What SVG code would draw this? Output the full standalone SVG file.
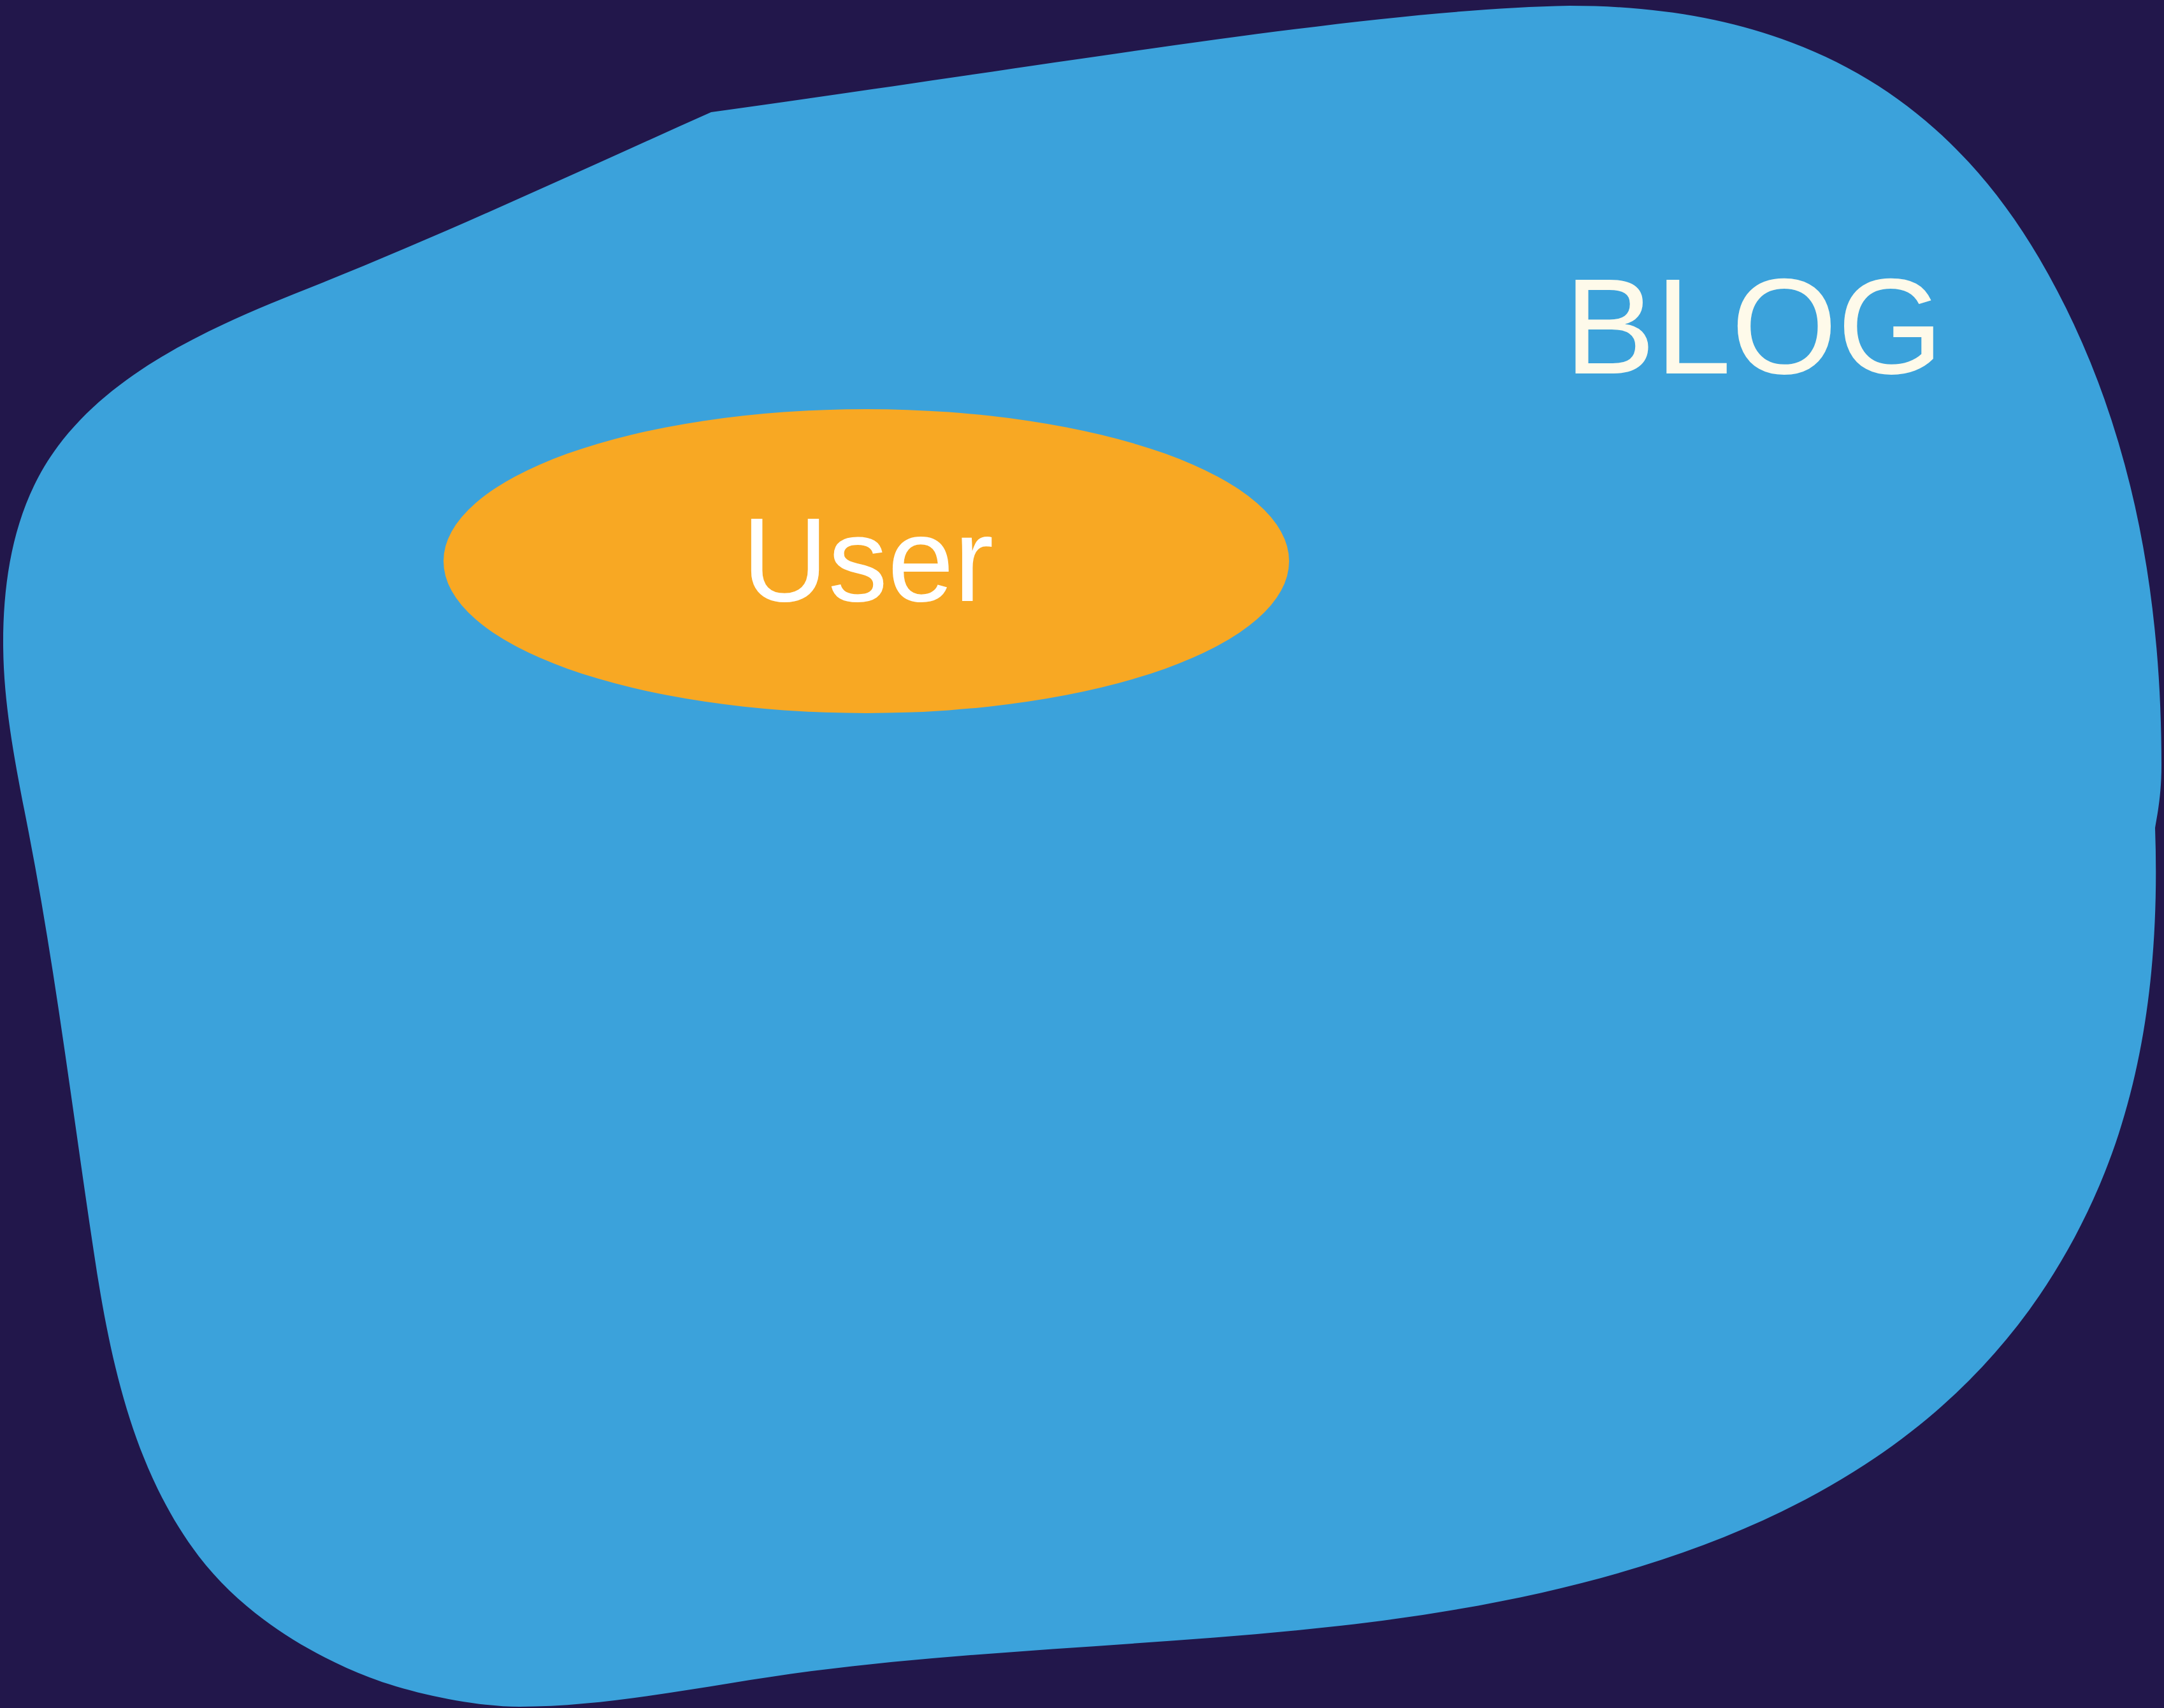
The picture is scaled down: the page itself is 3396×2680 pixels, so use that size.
<svg xmlns="http://www.w3.org/2000/svg" width="3396" height="2680" viewBox="0 0 3396 2680">
  <style>
    .bg { fill: #22174B; }
    .blob { fill: #3BA2DB; }
    .user-shape { fill: #F8A823; }
    .label { font-family: "Liberation Sans", Arial, sans-serif; }
    .blog-label { fill: #FEFAEA; font-size: 214px; }
    .user-label { fill: #FFFFFF; font-size: 187px; }
  </style>
  <rect class="bg" x="0" y="0" width="3396" height="2680"/>
  <g id="blog">
    <path class="blob" d="M 1116 176
      C 1700 95, 2150 15, 2463 9
      C 2813 9, 3048 146, 3200 405
      C 3352 664, 3392 950, 3392 1200
      C 3392 1250, 3385 1280, 3382 1299
      C 3389 1498, 3368 1700, 3285 1882
      C 3099 2292, 2699 2484, 2103 2551
      C 1825 2582, 1552 2587, 1274 2622
      C 1125 2641, 965 2678, 815 2678
      C 745 2678, 645 2657, 580 2632
      C 477 2592, 379 2529, 312 2442
      C 209 2307, 172 2131, 147 1963
      C 114 1745, 87 1522, 45 1306
      C 26 1208, 5 1109, 5 1009
      C 5 899, 25 788, 91 700
      C 187 572, 351 505, 500 446
      C 704 364, 915 266, 1116 176 Z"/>
    <text class="label blog-label" x="2455" y="586">BLOG</text>
  </g>
  <g id="user">
    <ellipse class="user-shape" cx="1359.5" cy="880.5" rx="663.5" ry="238.5"/>
    <text class="label user-label" x="1164.5" y="943">User</text>
  </g>
  <g id="connectors"></g>
</svg>
